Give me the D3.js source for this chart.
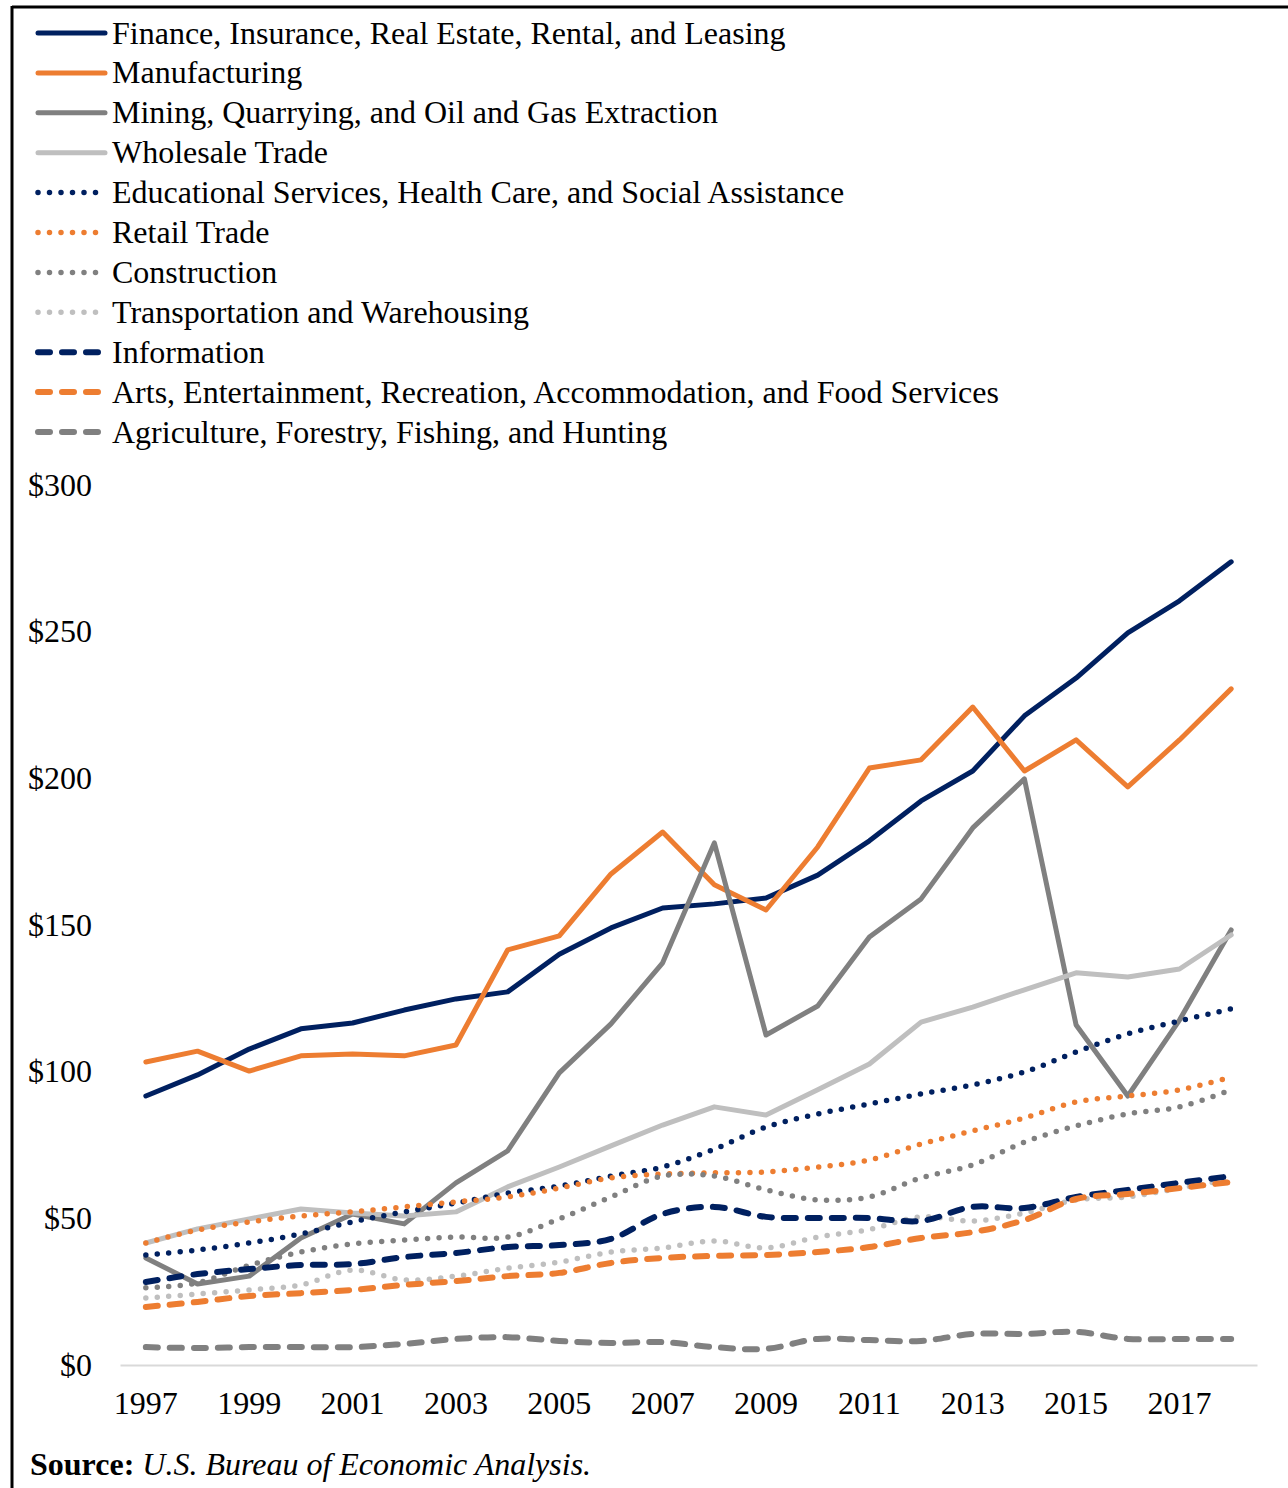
<!DOCTYPE html>
<html>
<head>
<meta charset="utf-8">
<script src="https://cdn.jsdelivr.net/npm/d3@7"></script>
<style>
  body { margin: 0; background: #fff; }
  text { font-family: "Liberation Serif", "Times New Roman", serif; fill: #000; }
</style>
</head>
<body>
<div id="chart"></div>
<script>
var years = [1997, 1998, 1999, 2000, 2001, 2002, 2003, 2004, 2005, 2006, 2007,
  2008, 2009, 2010, 2011, 2012, 2013, 2014, 2015, 2016, 2017, 2018];
var yTicks = [0, 50, 100, 150, 200, 250, 300];

var finance = [91.7, 98.9, 107.7, 114.6, 116.6, 121, 124.8, 127.2, 140, 149, 155.8,
  157.2, 159.2, 167, 178.7, 192.3, 202.5, 221.3, 234.2, 249.6, 260.5, 273.8];
var manufacturing = [103.3, 107, 100.2, 105.4, 106, 105.4, 109.1, 141.5, 146.3, 167.4, 181.7,
  163.7, 155.1, 176.6, 203.5, 206.3, 224.3, 202.5, 213.1, 197.1, 213.1, 230.5];
var mining = [36.5, 27.6, 30.3, 43.3, 51.5, 48.1, 62.1, 73, 99.6, 116.3, 137.1,
  178, 112.5, 122.4, 145.9, 158.9, 183.1, 199.8, 115.9, 91.7, 117.6, 148.3];
var wholesale = [41.6, 46.4, 49.8, 53.2, 51.8, 50.8, 52.2, 60.7, 67.5, 74.7, 81.8,
  88, 85.2, 93.8, 102.6, 116.9, 122, 127.9, 133.7, 132.3, 135, 146.6];
var education = [37.5, 39.2, 41.6, 44.7, 48.8, 52.2, 55.2, 58.6, 61, 64.4, 67.5,
  73.6, 81.1, 85.6, 89, 92.4, 95.5, 99.9, 106.7, 112.9, 117.3, 121.4];
var retail = [41.6, 46, 48.8, 50.8, 52.2, 53.9, 55.6, 57.3, 60.3, 63.8, 65.1,
  65.5, 65.8, 67.5, 69.9, 75.3, 79.8, 84.2, 89.7, 91.7, 93.8, 98.2];
var construction = [26.3, 28, 34, 38.5, 41.3, 42.6, 43.6, 43.6, 49.8, 57.3, 64.4,
  64.4, 59.7, 56.3, 57.3, 63.8, 68.2, 76, 81.5, 85.6, 88, 93.8];
var transportation = [22.8, 24.2, 25.6, 27.3, 32.4, 29, 30.3, 33, 35.1, 38.5, 39.9,
  42.3, 39.9, 43.6, 46.2, 50.5, 49.1, 51.8, 56.3, 57.3, 60.3, 63.4];
var information = [28.3, 31, 32.7, 34.1, 34.4, 36.8, 38.2, 40.2, 40.9, 43, 51.5,
  53.9, 50.5, 50.1, 50.1, 49.1, 53.9, 53.5, 57.3, 59.7, 62.1, 64.4];
var arts = [19.8, 21.5, 23.5, 24.5, 25.6, 27.3, 28.6, 30.3, 31.4, 34.8, 36.5,
  37.2, 37.5, 38.5, 40.2, 43.3, 45.3, 49.4, 56.6, 58.3, 60.3, 62.4];
var agriculture = [6.1, 5.8, 6.1, 6.1, 6.1, 7.2, 8.9, 9.5, 8.2, 7.5, 7.8,
  6.1, 5.5, 8.9, 8.5, 8.2, 10.6, 10.6, 11.3, 8.9, 8.9, 8.9];

var navy = "#002060", orange = "#ED7D31", gray = "#808080", lightGray = "#BFBFBF";

var series = [
  { name: "Finance, Insurance, Real Estate, Rental, and Leasing", values: finance, color: navy, style: "solid" },
  { name: "Manufacturing", values: manufacturing, color: orange, style: "solid" },
  { name: "Mining, Quarrying, and Oil and Gas Extraction", values: mining, color: gray, style: "solid" },
  { name: "Wholesale Trade", values: wholesale, color: lightGray, style: "solid" },
  { name: "Educational Services, Health Care, and Social Assistance", values: education, color: navy, style: "dot" },
  { name: "Retail Trade", values: retail, color: orange, style: "dot" },
  { name: "Construction", values: construction, color: gray, style: "dot" },
  { name: "Transportation and Warehousing", values: transportation, color: lightGray, style: "dot" },
  { name: "Information", values: information, color: navy, style: "dash" },
  { name: "Arts, Entertainment, Recreation, Accommodation, and Food Services", values: arts, color: orange, style: "dash" },
  { name: "Agriculture, Forestry, Fishing, and Hunting", values: agriculture, color: gray, style: "dash" }
];

var svgWidth = 1288, svgHeight = 1488;
var plot = { left: 120, right: 1257, top: 485, bottom: 1365 };
var fontSize = "32px";

var svg = d3.select("#chart").append("svg")
  .attr("width", svgWidth)
  .attr("height", svgHeight);

// frame (top and left edges only are visible)
svg.append("line").attr("x1", 12).attr("x2", svgWidth).attr("y1", 7).attr("y2", 7)
  .attr("stroke", "#000").attr("stroke-width", 3);
svg.append("line").attr("x1", 12).attr("x2", 12).attr("y1", 6).attr("y2", svgHeight)
  .attr("stroke", "#000").attr("stroke-width", 3);

function applyStyle(sel, d) {
  sel.attr("stroke", d.color).attr("fill", "none");
  if (d.style == "solid") {
    sel.attr("stroke-width", 5).attr("stroke-linecap", "round").attr("stroke-linejoin", "round");
  } else if (d.style == "dot") {
    sel.attr("stroke-width", 5.5).attr("stroke-linecap", "round").attr("stroke-dasharray", "0 11.5");
  } else {
    sel.attr("stroke-width", 6).attr("stroke-linecap", "round").attr("stroke-dasharray", "12 12");
  }
  return sel;
}

// legend
var legend = svg.append("g");
series.forEach(function (d, i) {
  var y = 33 + i * 39.9;
  applyStyle(legend.append("line")
    .attr("x1", 38).attr("x2", d.style == "solid" ? 105 : 100)
    .attr("y1", y).attr("y2", y), d);
  legend.append("text")
    .attr("x", 112).attr("y", y)
    .attr("dy", "0.33em")
    .attr("font-size", fontSize)
    .text(d.name);
});

var x = d3.scaleBand().domain(years).range([plot.left, plot.right]);
var y = d3.scaleLinear().domain([0, 300]).range([plot.bottom, plot.top]);

// y axis labels
var yAxis = svg.append("g")
  .attr("transform", `translate(${plot.left - 28}, 0)`)
  .call(d3.axisLeft(y).tickValues(yTicks).tickSize(0).tickPadding(0).tickFormat(d => "$" + d));
yAxis.select(".domain").remove();
yAxis.selectAll("text")
  .attr("font-size", fontSize)
  .attr("font-family", "Liberation Serif, serif")
  .attr("fill", "#000");

// x axis
var xAxis = svg.append("g")
  .attr("transform", `translate(0, ${plot.bottom})`)
  .call(d3.axisBottom(x).tickValues(years.filter(v => (v - 1997) % 2 == 0)).tickSize(0).tickPadding(26));
xAxis.select(".domain").attr("stroke", "#D9D9D9").attr("stroke-width", 2);
xAxis.selectAll("text")
  .attr("font-size", fontSize)
  .attr("font-family", "Liberation Serif, serif")
  .attr("fill", "#000");

// lines
var lines = svg.append("g");
series.forEach(function (d) {
  var line = d3.line()
    .x((v, i) => x(years[i]) + x.bandwidth() / 2)
    .y(v => y(v))
    .curve(d.style == "solid" ? d3.curveLinear : d3.curveCatmullRom.alpha(0.5));
  applyStyle(lines.append("path").attr("d", line(d.values)), d);
});

// source note
var note = svg.append("text")
  .attr("x", 30).attr("y", 1475)
  .attr("font-size", fontSize);
note.append("tspan").attr("font-weight", "bold").text("Source: ");
note.append("tspan").attr("font-style", "italic").text("U.S. Bureau of Economic Analysis.");
</script>
</body>
</html>
